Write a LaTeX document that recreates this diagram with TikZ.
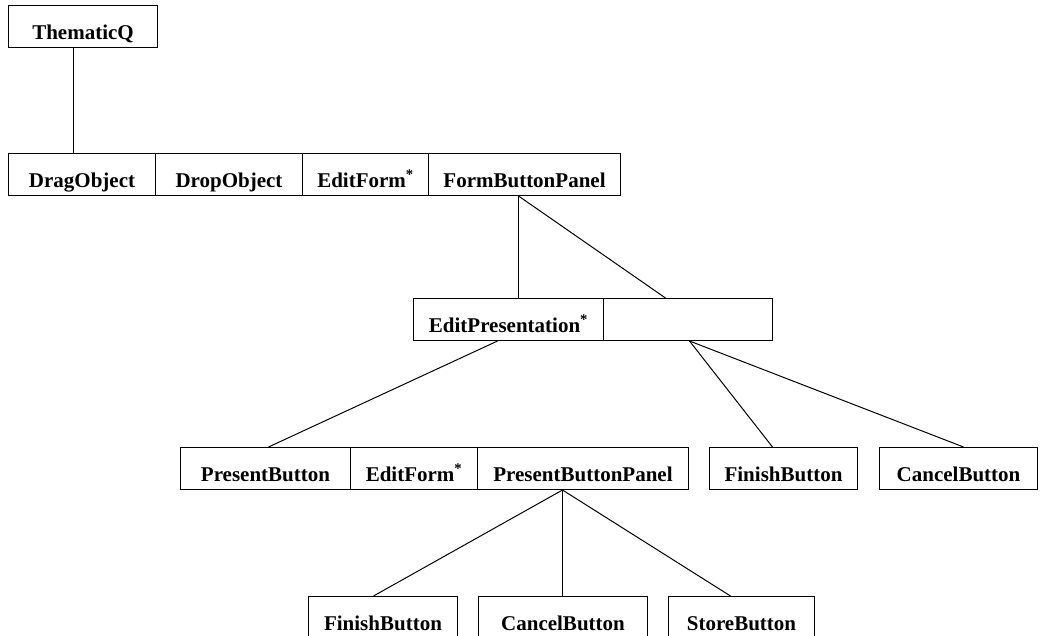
\documentclass[tikz,border=0pt]{standalone}
\usepackage{fontspec}
\setmainfont{Liberation Serif}
\newcommand{\mystar}{\textsuperscript{*}}
\begin{document}
\begin{tikzpicture}[x=1pt,y=-1pt,line width=1pt,
  cell/.style={draw, rectangle, anchor=north west, inner sep=0pt,
    text height=34pt, text depth=8pt, align=center,
    font=\fontsize{21}{21}\selectfont\bfseries}]
\useasboundingbox (0,0) rectangle (1043,635);
\clip (0,0) rectangle (1043,635);

% root
\node[cell, minimum width=149pt] (tq) at (8,5) {ThematicQ};

% second level
\node[cell, minimum width=147pt] (drag) at (8,153) {DragObject};
\node[cell, minimum width=147pt] (drop) at (155,153) {DropObject};
\node[cell, minimum width=126pt] (ef1) at (302,153) {EditForm\mystar};
\node[cell, minimum width=192pt] (fbp) at (428,153) {FormButtonPanel};

% presentation editor
\node[cell, minimum width=190pt] (ep) at (413,298) {EditPresentation\mystar};
\node[cell, minimum width=169pt] (ep2) at (603,298) {};

% fourth level
\node[cell, minimum width=170pt] (pb) at (180,447) {PresentButton};
\node[cell, minimum width=127pt] (ef2) at (350,447) {EditForm\mystar};
\node[cell, minimum width=211pt] (pbp) at (477,447) {PresentButtonPanel};
\node[cell, minimum width=148pt] (fb1) at (709,447) {FinishButton};
\node[cell, minimum width=158pt] (cb1) at (879,447) {CancelButton};

% buttons of the present panel
\node[cell, minimum width=149pt] (fb2) at (308,596) {FinishButton};
\node[cell, minimum width=169pt] (cb2) at (478,596) {CancelButton};
\node[cell, minimum width=146pt] (sb) at (668,596) {StoreButton};

% branch points
\coordinate (t0) at ([xshift=-10pt]tq.south);
\coordinate (v1) at ([xshift=-6pt]fbp.south);
\coordinate (v2) at ([xshift=-11pt]ep.south);
\coordinate (v3) at ([xshift=1.5pt]ep2.south);
\coordinate (v4) at ([xshift=-20.5pt]pbp.south);

% connectors
\draw (t0) -- (t0 |- drag.north);
\draw (v1) -- (v1 |- ep.north);
\draw (v1) -- ([xshift=-22.5pt]ep2.north);
\draw (v2) -- ([xshift=3pt]pb.north);
\draw (v3) -- ([xshift=-11pt]fb1.north);
\draw (v3) -- ([xshift=5pt]cb1.north);
\draw (v4) -- ([xshift=-9.5pt]fb2.north);
\draw (v4) -- (v4 |- cb2.north);
\draw (v4) -- ([xshift=-11pt]sb.north);
\end{tikzpicture}
\end{document}
